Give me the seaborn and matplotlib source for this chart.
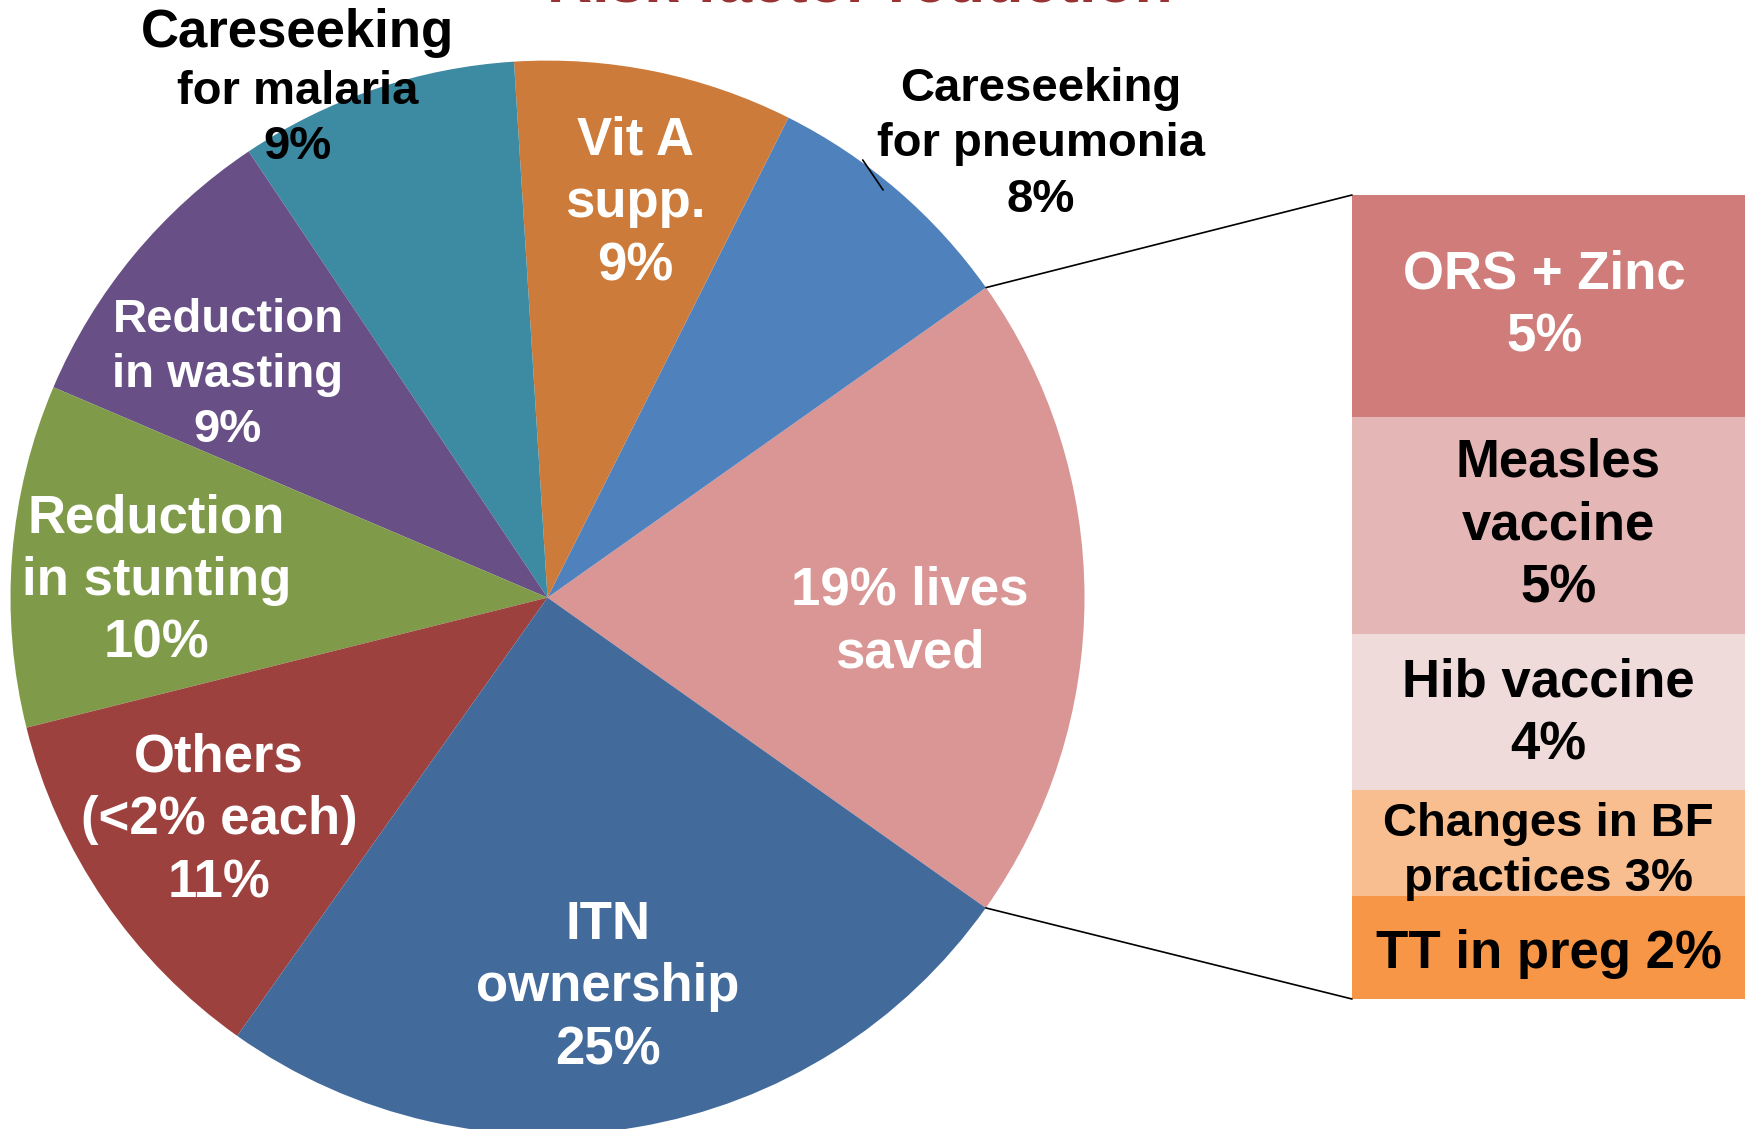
import numpy as np
import matplotlib
matplotlib.use('Agg')
import matplotlib.pyplot as plt
from matplotlib.patches import ConnectionPatch
import seaborn as sns

sns.set_theme(style='white')
plt.rcParams['font.family'] = ['Liberation Sans', 'DejaVu Sans']
plt.rcParams['font.weight'] = 'bold'

# pie slices, counter-clockwise, starting with the share broken out to the bar
slice_labels = ['19% lives\nsaved', 'Careseeking\nfor pneumonia\n8%', 'Vit A\nsupp.\n9%',
                'for malaria\n9%', 'Reduction\nin wasting\n9%', 'Reduction\nin stunting\n10%',
                'Others\n(<2% each)\n11%', 'ITN\nownership\n25%']
slice_shares = [19.6, 7.8, 8.4, 8.4, 9.2, 10.3, 11.3, 25.0]
slice_colors = ['#D99694', '#4F81BD', '#CC7B3A', '#3D8AA3', '#684F85',
                '#7F9B49', '#9D413F', '#426A9B']
slice_text_colors = ['white', 'black', 'white', 'black', 'white', 'white', 'white', 'white']
slice_font_sizes = [38, 34, 38, 34, 34, 38, 38, 38]
# where each label sits, in pie radius units
slice_label_xy = [(0.674, -0.046), (0.919, 0.844), (0.164, 0.734), (-0.466, 0.890),
                  (-0.595, 0.415), (-0.728, 0.031), (-0.612, -0.415), (0.112, -0.726)]

# breakdown of the 19% slice, top to bottom
bar_labels = ['ORS + Zinc\n5%', 'Measles\nvaccine\n5%', 'Hib vaccine\n4%',
              'Changes in BF\npractices 3%', 'TT in preg 2%']
bar_shares = [5.4, 5.3, 3.8, 2.6, 2.5]
bar_colors = ['#D07C7A', '#E5B6B6', '#F0DBDB', '#F9BE8F', '#F79646']
bar_text_colors = ['white', 'black', 'black', 'black', 'black']
bar_font_sizes = [38, 38, 38, 34, 38]
# small nudges of the bar labels (x in axes units, y in share units)
bar_label_nudge = [(-0.01, 0.0), (0.025, 0.0), (0.0, 0.05), (0.0, 0.2), (0.0, 0.15)]

W, H = 1745, 1129
fig = plt.figure(figsize=(W / 100, H / 100), dpi=100)
fig.patch.set_facecolor('white')

# pie axes: centre (547.5, 597.6) px, radius 537 px
cx, cy, r = 547.5, 597.6, 537
ax_pie = fig.add_axes([(cx - r) / W, (H - cy - r) / H, 2 * r / W, 2 * r / H])
wedges, _ = ax_pie.pie(slice_shares, colors=slice_colors, startangle=-35.3,
                       counterclock=True, radius=1, wedgeprops=dict(linewidth=0))
ax_pie.set_xlim(-1, 1)
ax_pie.set_ylim(-1, 1)
ax_pie.set_aspect('equal')
ax_pie.axis('off')

for lab, (x, y), c, fs in zip(slice_labels, slice_label_xy, slice_text_colors, slice_font_sizes):
    ax_pie.text(x, y, lab, ha='center', va='center', color=c, fontsize=fs,
                fontweight='bold', linespacing=1.33)
# larger heading line of the malaria label
ax_pie.text(-0.466, 1.051, 'Careseeking', ha='center', va='center', color='black',
            fontsize=38, fontweight='bold')

# short leader line for the pneumonia label
ax_pie.plot([0.587, 0.625], [0.815, 0.759], color='black', lw=1.2)

# stacked bar for the broken-out slice
ax_bar = fig.add_axes([1352 / W, (H - 999) / H, 393 / W, 804 / H])
bottoms = np.concatenate([[0], np.cumsum(bar_shares)[:-1]])
ax_bar.bar(0, bar_shares, bottom=bottoms, width=1, color=bar_colors, linewidth=0)
ax_bar.set_xlim(-0.5, 0.5)
ax_bar.set_ylim(sum(bar_shares), 0)
ax_bar.axis('off')
for lab, b, s, c, fs, (nx, ny) in zip(bar_labels, bottoms, bar_shares, bar_text_colors,
                                      bar_font_sizes, bar_label_nudge):
    ax_bar.text(nx, b + s / 2 + ny, lab, ha='center', va='center', color=c, fontsize=fs,
                fontweight='bold', linespacing=1.33)

# connector lines from the pie slice edges to the bar
w0 = wedges[0]
for ang, yb in [(w0.theta2, 1), (w0.theta1, 0)]:
    t = np.deg2rad(ang)
    con = ConnectionPatch(xyA=(np.cos(t), np.sin(t)), coordsA=ax_pie.transData,
                          xyB=(0, yb), coordsB=ax_bar.transAxes, color='black', lw=1.2)
    fig.add_artist(con)

# title, mostly cut off at the top edge (as in the source slide)
fig.text(0.4928, 1 - 2 / H, 'Risk factor reduction', ha='center', va='baseline',
         fontsize=45, fontweight='bold', color='#993333')

fig.savefig('out.png', dpi=100)
